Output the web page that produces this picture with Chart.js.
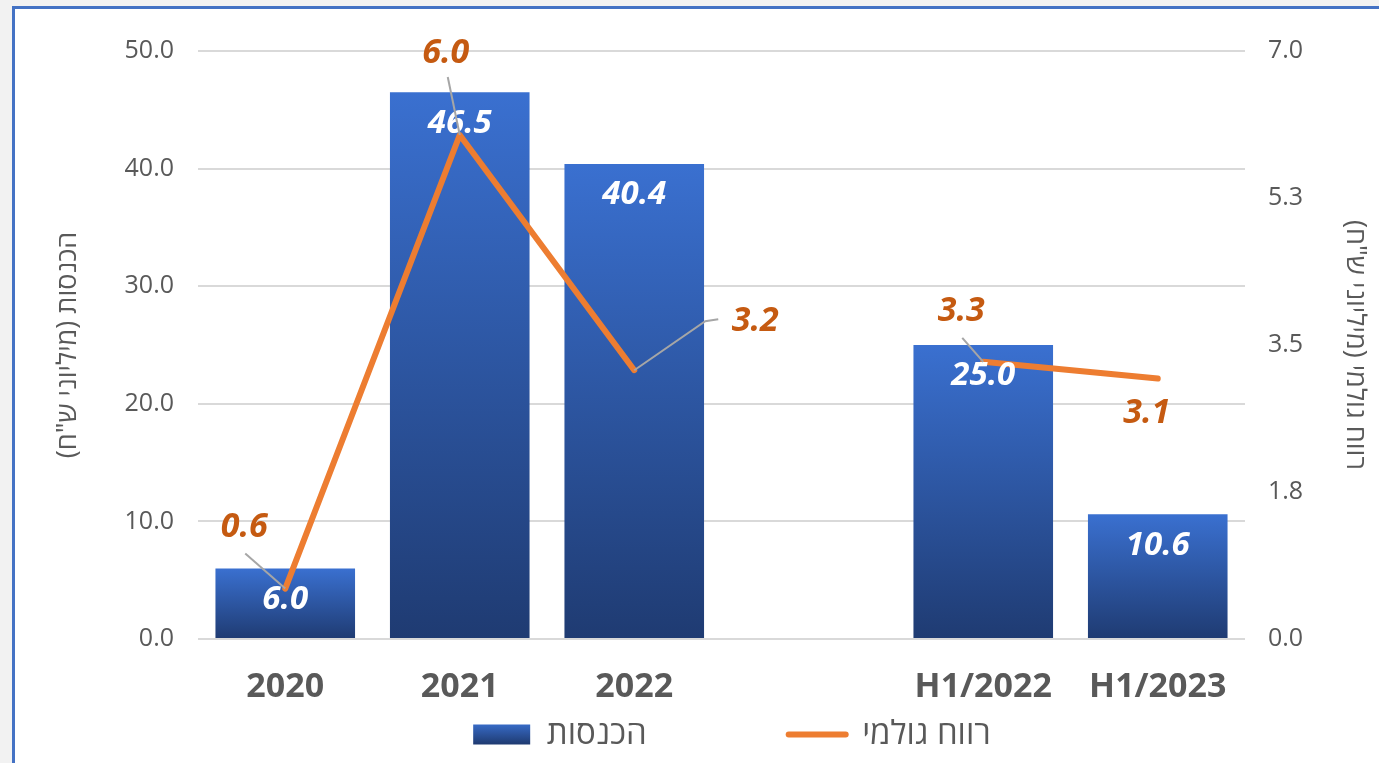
<!DOCTYPE html>
<html>
<head>
<meta charset="utf-8">
<script src="https://cdn.jsdelivr.net/npm/chart.js@4.4.0/dist/chart.umd.min.js"></script>
<style>
html, body { margin: 0; padding: 0; overflow: hidden; background: #f2f2f2; }
#frame { position: absolute; left: 12px; top: 6px; width: 1400px; height: 800px; border: 3px solid #4472c4; background: #fff; }
#wrap { position: absolute; left: 0; top: 0; width: 1379px; height: 763px; }
</style>
</head>
<body>
<div id="frame"></div>
<div id="wrap"><canvas id="chart"></canvas></div>
<script>
// data
var categories = ['2020', '2021', '2022', '', 'H1/2022', 'H1/2023'];
var revenue = [6.0, 46.5, 40.4, null, 25.0, 10.6];
var grossProfit = [0.6, 6.0, 3.2, null, 3.3, 3.1];
var rightTickLabels = ['0.0', '1.8', '3.5', '5.3', '7.0'];
var revenueName = 'הכנסות';
var profitName = 'רווח גולמי';
var RLM = '\u200F';

// label placement (pixel offsets from the line point)
var profitLabelOffsets = [[-41, -61], [-14, -82], [121, -49], null, [-22, -50], [-11, 35]];
var profitLeaders = [[[-40, -35]], [[-12, -58]], [[71, -49], [84, -51]], null, [[-21, -24]], null];

var FONT = "'Open Sans', 'DejaVu Sans', sans-serif";
var GREY = '#595959';

function barGradient(context) {
  var chart = context.chart;
  if (!chart.chartArea || context.raw == null) return '#2f5597';
  var y = chart.scales.y.getPixelForValue(context.raw);
  var base = chart.scales.y.getPixelForValue(0);
  var g = chart.ctx.createLinearGradient(0, y, 0, base);
  g.addColorStop(0, '#3a70d0');
  g.addColorStop(1, '#1f3b72');
  return g;
}

var labelPlugin = {
  id: 'valueLabels',
  afterLayout: function(chart) {
    chart.legend.left += 85;
  },
  beforeDraw: function(chart) {
    var lg = chart.legend;
    if (!lg || !lg.legendItems || !lg.legendItems.length) return;
    var mid = lg.bottom - 28;
    var g = chart.ctx.createLinearGradient(0, mid - 11, 0, mid + 11);
    g.addColorStop(0, '#3a70d0');
    g.addColorStop(1, '#1f3b72');
    lg.legendItems[0].fillStyle = g;
  },
  afterDatasetsDraw: function(chart) {
    var ctx = chart.ctx;
    var barMeta = chart.getDatasetMeta(0);
    var lineMeta = chart.getDatasetMeta(1);
    ctx.save();
    ctx.textAlign = 'center';
    ctx.textBaseline = 'middle';
    ctx.font = 'italic bold 33px ' + FONT;
    ctx.fillStyle = '#ffffff';
    barMeta.data.forEach(function(bar, i) {
      if (revenue[i] == null) return;
      ctx.fillText(revenue[i].toFixed(1), bar.x, bar.y + 31);
    });
    ctx.strokeStyle = '#a6a6a6';
    ctx.lineWidth = 2;
    ctx.font = 'italic bold 34px ' + FONT;
    lineMeta.data.forEach(function(pt, i) {
      if (grossProfit[i] == null) return;
      var lead = profitLeaders[i];
      if (lead) {
        ctx.beginPath();
        ctx.moveTo(pt.x, pt.y);
        lead.forEach(function(p) { ctx.lineTo(pt.x + p[0], pt.y + p[1]); });
        ctx.stroke();
      }
      var off = profitLabelOffsets[i];
      ctx.fillStyle = '#c55a11';
      ctx.fillText(grossProfit[i].toFixed(1), pt.x + off[0], pt.y + off[1]);
    });
    ctx.restore();
  }
};

var chart = new Chart(document.getElementById('chart'), {
  type: 'bar',
  data: {
    labels: categories,
    datasets: [
      {
        type: 'bar',
        label: revenueName,
        data: revenue,
        yAxisID: 'y',
        backgroundColor: barGradient,
        categoryPercentage: 0.8,
        barPercentage: 1.0,
        order: 1
      },
      {
        type: 'line',
        label: profitName,
        data: grossProfit,
        yAxisID: 'y1',
        borderColor: '#ed7d31',
        backgroundColor: '#ed7d31',
        borderWidth: 6,
        pointRadius: 0,
        pointHoverRadius: 0,
        spanGaps: false,
        borderCapStyle: 'round',
        borderJoinStyle: 'round',
        order: 0
      }
    ]
  },
  options: {
    responsive: true,
    maintainAspectRatio: false,
    animation: false,
    layout: { padding: { top: 51, bottom: 2, left: 0, right: 0 } },
    plugins: {
      tooltip: { enabled: false },
      legend: {
        position: 'bottom',
        labels: {
          usePointStyle: true,
          pointStyleWidth: 57,
          boxHeight: 20,
          padding: 10,
          color: GREY,
          font: { family: FONT, size: 33 },
          generateLabels: function() {
            return [
              { text: revenueName + '\u2003\u2003\u2003\u2003', fillStyle: '#2f5597', strokeStyle: 'rgba(0,0,0,0)', lineWidth: 0, pointStyle: 'rect', fontColor: GREY, datasetIndex: 0 },
              { text: profitName, fillStyle: '#ed7d31', strokeStyle: '#ed7d31', lineWidth: 6, lineCap: 'round', pointStyle: 'line', fontColor: GREY, datasetIndex: 1 }
            ];
          }
        }
      }
    },
    scales: {
      x: {
        grid: { display: false, drawTicks: false },
        border: { display: false },
        ticks: { color: GREY, padding: 28, font: { family: FONT, size: 34, weight: 'bold' } },
        afterFit: function(s) { s.height = 69; }
      },
      y: {
        position: 'left',
        min: 0,
        max: 50,
        grid: { color: '#d9d9d9', lineWidth: 2, drawTicks: false },
        border: { display: false },
        ticks: {
          stepSize: 10,
          padding: 24,
          color: GREY,
          font: { family: FONT, size: 25 },
          callback: function(v) { return v.toFixed(1); }
        },
        title: {
          display: true,
          text: RLM + revenueName + ' (מיליוני ש"ח)' + RLM,
          color: GREY,
          padding: { top: 52 },
          font: { family: FONT, size: 27 }
        },
        afterFit: function(s) { s.width = 198; }
      },
      y1: {
        position: 'right',
        min: 0,
        max: 7,
        grid: { display: false, drawTicks: false },
        border: { display: false },
        ticks: {
          stepSize: 1.75,
          padding: 23,
          color: GREY,
          font: { family: FONT, size: 25 },
          callback: function(v, i) { return rightTickLabels[i]; }
        },
        title: {
          display: true,
          text: RLM + profitName + ' (מיליוני ש"ח)' + RLM,
          color: GREY,
          padding: { top: 8 },
          font: { family: FONT, size: 27 }
        },
        afterFit: function(s) { s.width = 134; }
      }
    }
  },
  plugins: [labelPlugin]
});
</script>
</body>
</html>
